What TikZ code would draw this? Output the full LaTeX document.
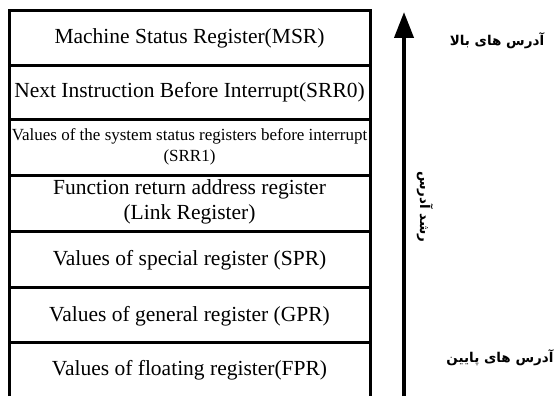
\documentclass[tikz,border=0pt]{standalone}
\usepackage{fontspec}
\setmainfont{Liberation Serif}
\newfontfamily\fafont[Script=Arabic]{DejaVu Sans}
\TeXXeTstate=1
\usetikzlibrary{arrows.meta}
\tikzset{
  frame/.style={line width=3pt},
  regtext/.style={inner sep=0pt, align=center, font=\fontsize{21.5}{25}\selectfont},
  smalltext/.style={inner sep=0pt, align=center, font=\fontsize{17}{21}\selectfont},
  fatext/.style={inner sep=0pt, font=\fafont\bfseries\fontsize{13.5}{16}\selectfont},
  growarrow/.style={line width=4pt, -{Triangle[width=19pt,length=26pt]}}
}
\begin{document}
\begin{tikzpicture}[x=1pt,y=-1pt]
\useasboundingbox (0,0) rectangle (556,396);
% stack frame
\draw[frame] (9,396) -- (9,11) -- (370,11) -- (370,396);
\foreach \yy in {65,119,175,231,287,342}
  \draw[frame] (9,\yy) -- (370,\yy);
% register texts
\node[regtext] (msr) at (189.5,38) {Machine Status Register(MSR)};
\node[regtext] (srr0) at (189.5,92) {Next Instruction Before Interrupt(SRR0)};
\node[smalltext] (srr1) at (189.5,147) {Values of the system status registers before interrupt\\(SRR1)};
\node[regtext] (lr) at (189.5,202) {Function return address register\\(Link Register)};
\node[regtext] (spr) at (189.5,260) {Values of special register (SPR)};
\node[regtext] (gpr) at (189.5,316) {Values of general register (GPR)};
\node[regtext] (fpr) at (189.5,370) {Values of floating register(FPR)};
% growth arrow
\coordinate (abase) at (404,396);
\coordinate (atip) at (404,12);
\draw[growarrow] (abase) -- (atip);
% persian labels
\node[fatext] (hi) at (497,41) {\beginR آدرس های بالا\endR};
\node[fatext] (lo) at (500,358) {\beginR آدرس های پایین\endR};
\node[fatext, rotate=-90] (grow) at (425,207) {\beginR رشد آدرس\endR};
\end{tikzpicture}
\end{document}
